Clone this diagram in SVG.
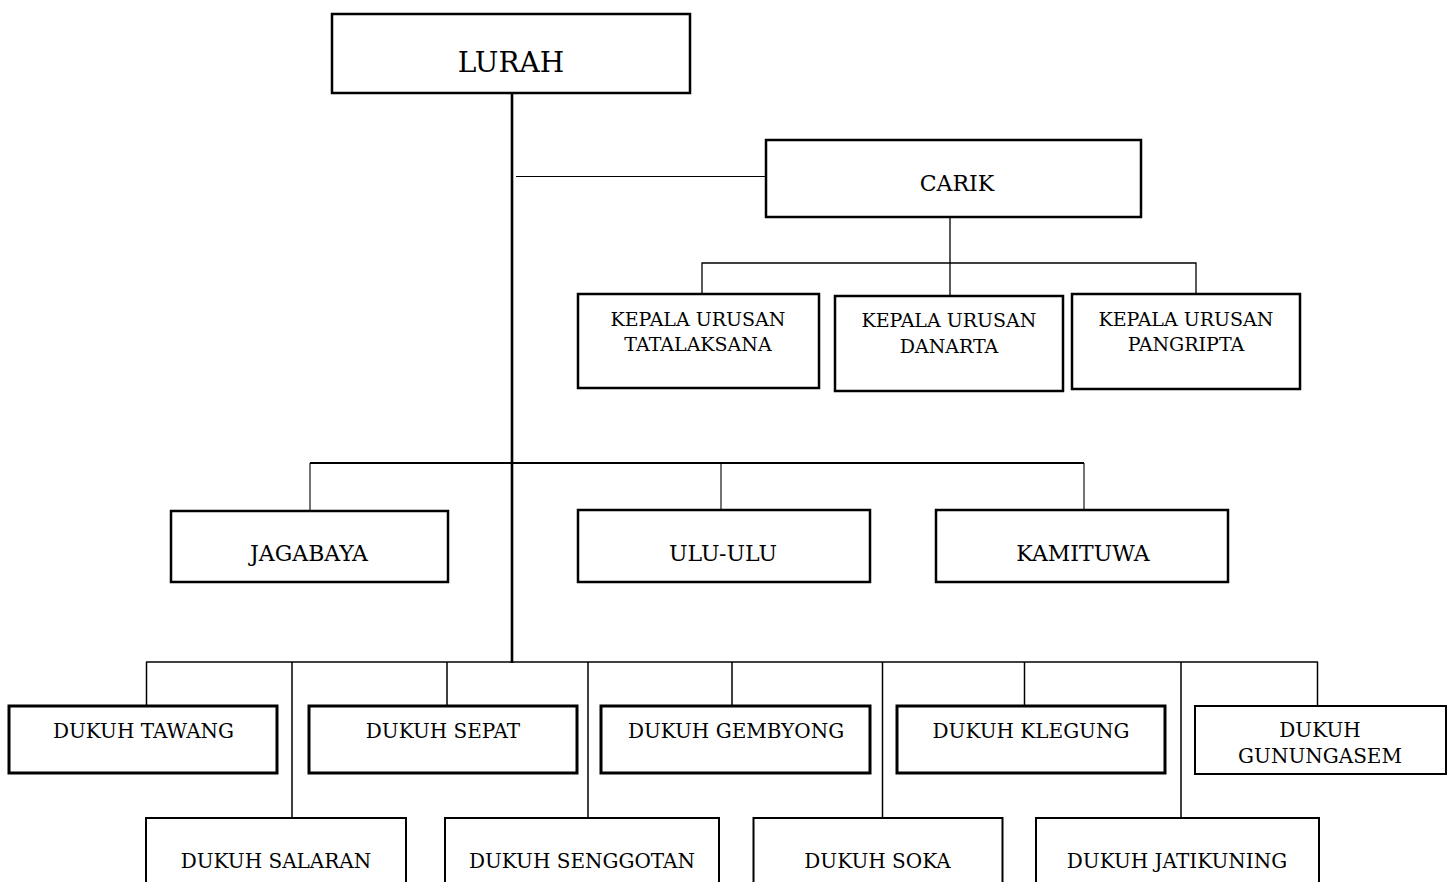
<svg xmlns="http://www.w3.org/2000/svg" width="1450" height="882" viewBox="0 0 1450 882">
<style>
.b{fill:#fff;stroke:#000;stroke-width:2.5}
.bt{fill:#fff;stroke:#000;stroke-width:3}
.bn{fill:#fff;stroke:#000;stroke-width:2}
.t{font-family:"DejaVu Serif","Liberation Serif",serif;fill:#000;text-anchor:middle}
.c{fill:none;stroke:#000}
</style>
<rect width="1450" height="882" fill="#fff"/>
<g id="connectors">
<line class="c" x1="512" y1="90" x2="512" y2="663" stroke-width="2.6"/>
<line class="c" x1="516" y1="176.5" x2="766" y2="176.5" stroke-width="1.2" stroke="#222"/>
<line class="c" x1="950" y1="217" x2="950" y2="295" stroke-width="1.3"/>
<polyline class="c" points="702,294 702,263 1196,263 1196,294" stroke-width="1.3"/>
<line class="c" x1="310" y1="463" x2="1084" y2="463" stroke-width="2" stroke="#333"/>
<line class="c" x1="310" y1="463" x2="310" y2="511" stroke-width="1.1"/>
<line class="c" x1="721" y1="463" x2="721" y2="510" stroke-width="1.1"/>
<line class="c" x1="1084" y1="463" x2="1084" y2="510" stroke-width="1.1"/>
<line class="c" x1="146" y1="662" x2="1318" y2="662" stroke-width="1.5"/>
<line class="c" x1="146.5" y1="662" x2="146.5" y2="705" stroke-width="1.5"/>
<line class="c" x1="292" y1="662" x2="292" y2="818" stroke-width="1.5"/>
<line class="c" x1="447" y1="662" x2="447" y2="705" stroke-width="1.5"/>
<line class="c" x1="588" y1="662" x2="588" y2="818" stroke-width="1.5"/>
<line class="c" x1="732" y1="662" x2="732" y2="705" stroke-width="1.5"/>
<line class="c" x1="882.5" y1="662" x2="882.5" y2="818" stroke-width="1.5"/>
<line class="c" x1="1024.5" y1="662" x2="1024.5" y2="705" stroke-width="1.5"/>
<line class="c" x1="1181" y1="662" x2="1181" y2="818" stroke-width="1.5"/>
<line class="c" x1="1317.5" y1="662" x2="1317.5" y2="705" stroke-width="1.5"/>
</g>
<g id="lurah"><rect class="b" x="332" y="14" width="358" height="79"/><text class="t" x="511" y="72" font-size="28">LURAH</text></g>
<g id="carik"><rect class="b" x="766" y="140" width="375" height="77"/><text class="t" x="957" y="191" font-size="22">CARIK</text></g>
<g id="kaur-tatalaksana"><rect class="b" x="578" y="294" width="241" height="94"/><text class="t" x="698" y="326" font-size="19">KEPALA URUSAN</text><text class="t" x="698" y="351" font-size="19">TATALAKSANA</text></g>
<g id="kaur-danarta"><rect class="b" x="835" y="296" width="228" height="95"/><text class="t" x="949" y="327" font-size="19">KEPALA URUSAN</text><text class="t" x="949" y="353" font-size="19">DANARTA</text></g>
<g id="kaur-pangripta"><rect class="b" x="1072" y="294" width="228" height="95"/><text class="t" x="1186" y="326" font-size="19">KEPALA URUSAN</text><text class="t" x="1186" y="351" font-size="19">PANGRIPTA</text></g>
<g id="jagabaya"><rect class="b" x="171" y="511" width="277" height="71"/><text class="t" x="309" y="561" font-size="22">JAGABAYA</text></g>
<g id="ulu-ulu"><rect class="b" x="578" y="510" width="292" height="72"/><text class="t" x="723" y="561" font-size="22">ULU-ULU</text></g>
<g id="kamituwa"><rect class="b" x="936" y="510" width="292" height="72"/><text class="t" x="1083" y="561" font-size="22">KAMITUWA</text></g>
<g id="dukuh-tawang"><rect class="bt" x="9" y="706" width="268" height="67"/><text class="t" x="143.5" y="738" font-size="20">DUKUH TAWANG</text></g>
<g id="dukuh-sepat"><rect class="bt" x="309" y="706" width="268" height="67"/><text class="t" x="443" y="738" font-size="20">DUKUH SEPAT</text></g>
<g id="dukuh-gembyong"><rect class="bt" x="601" y="706" width="269" height="67"/><text class="t" x="736" y="738" font-size="20">DUKUH GEMBYONG</text></g>
<g id="dukuh-klegung"><rect class="bt" x="897" y="706" width="268" height="67"/><text class="t" x="1031" y="738" font-size="20">DUKUH KLEGUNG</text></g>
<g id="dukuh-gunungasem"><rect class="bn" x="1195" y="706" width="251" height="68"/><text class="t" x="1320" y="737" font-size="20">DUKUH</text><text class="t" x="1320" y="763" font-size="20">GUNUNGASEM</text></g>
<g id="dukuh-salaran"><rect class="bn" x="146" y="818" width="260" height="100"/><text class="t" x="276" y="868" font-size="20">DUKUH SALARAN</text></g>
<g id="dukuh-senggotan"><rect class="bn" x="445" y="818" width="274" height="100"/><text class="t" x="582" y="868" font-size="20">DUKUH SENGGOTAN</text></g>
<g id="dukuh-soka"><rect class="bn" x="753.5" y="818" width="249" height="100"/><text class="t" x="877.5" y="868" font-size="20">DUKUH SOKA</text></g>
<g id="dukuh-jatikuning"><rect class="bn" x="1036" y="818" width="283" height="100"/><text class="t" x="1177" y="868" font-size="20">DUKUH JATIKUNING</text></g>
</svg>
